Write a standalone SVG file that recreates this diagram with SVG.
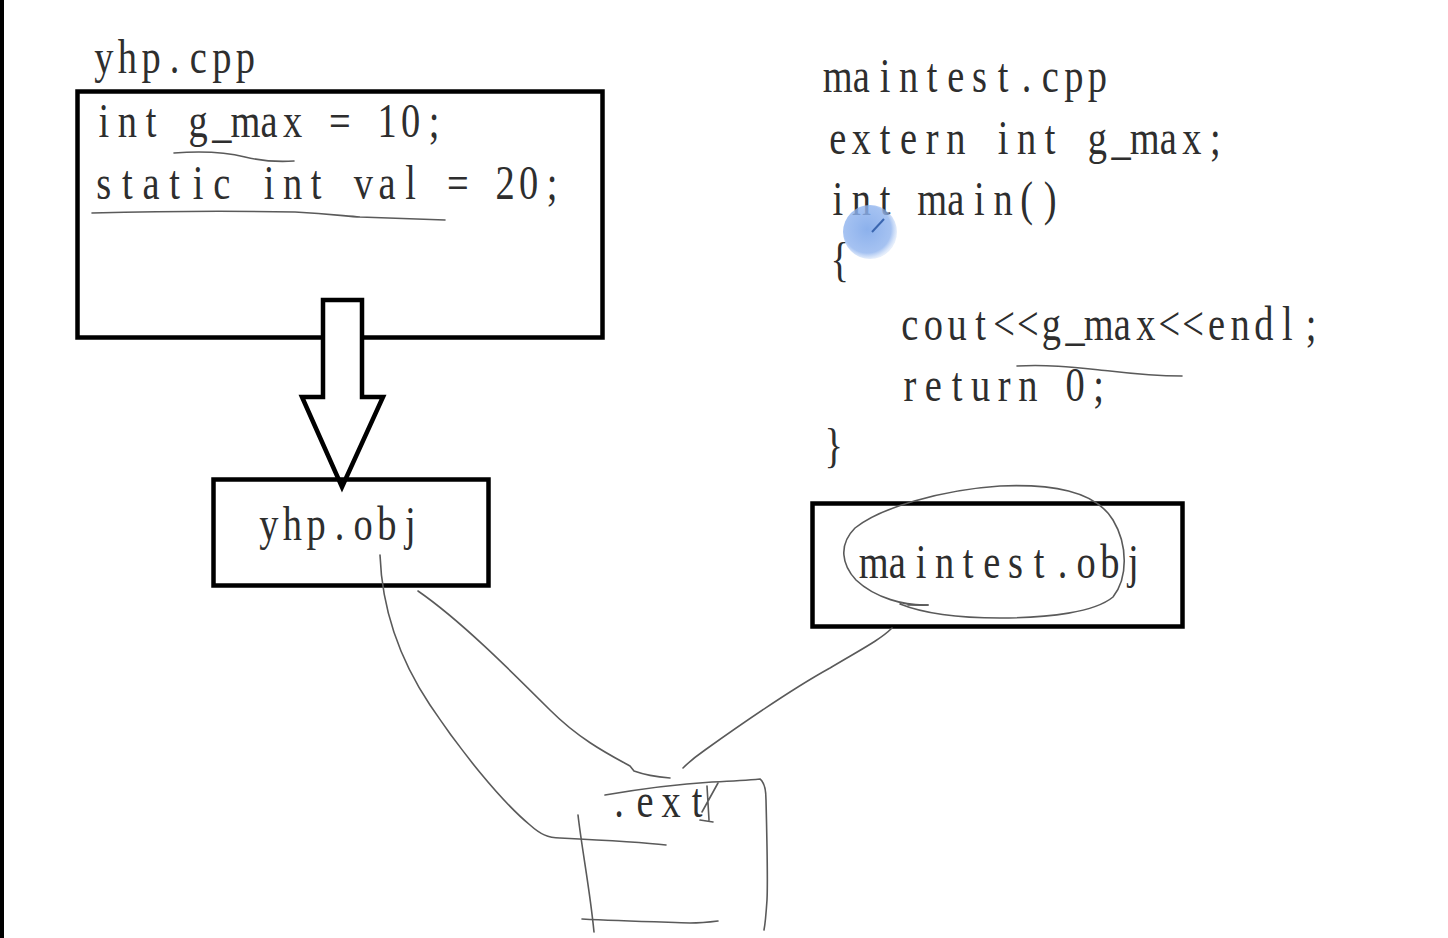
<svg xmlns="http://www.w3.org/2000/svg" width="1448" height="938" viewBox="0 0 1448 938">
<defs>
<style>
.code{font-family:"Liberation Serif","DejaVu Serif",serif;font-size:48px;fill:#2e2e2e;text-anchor:middle}
.box{fill:none;stroke:#000;stroke-width:4.5}
.pen{fill:none;stroke:#5a5a5a;stroke-width:1.6;stroke-linecap:round;stroke-linejoin:round}
</style>
<radialGradient id="dot" cx="0.45" cy="0.45" r="0.55">
<stop offset="0" stop-color="#7fa8ea" stop-opacity="0.9"/>
<stop offset="0.8" stop-color="#8fb3ee" stop-opacity="0.8"/>
<stop offset="1" stop-color="#a9c5f2" stop-opacity="0.3"/>
</radialGradient>
</defs>
<rect x="0" y="0" width="1448" height="938" fill="#fff"/>
<rect x="0" y="0" width="4" height="938" fill="#000"/>

<g id="yhp-cpp">
<text class="code" transform="translate(92,73) scale(0.8,1)" x="14.75 44.25 73.75 103.25 132.75 162.25 191.75" y="0">yhp.cpp</text>
<rect class="box" x="77.5" y="91.5" width="525" height="246"/>
<text class="code" transform="translate(92,137) scale(0.8,1)" x="14.75 44.25 73.75 103.25 132.75 162.25 191.75 221.25 250.75 280.25 309.75 339.25 368.75 398.25 427.75" y="0">int g_max = 10;</text>
<text class="code" transform="translate(92,199) scale(0.8,1)" x="14.75 44.25 73.75 103.25 132.75 162.25 191.75 221.25 250.75 280.25 309.75 339.25 368.75 398.25 427.75 457.25 486.75 516.25 545.75 575.25" y="0">static int val = 20;</text>
<path class="pen" d="M174,153 C200,151 225,152 245,157 C262,161 280,162 294,161"/>
<path class="pen" d="M92,213 C170,211 240,211 295,212 C330,214 345,216 360,217 C390,218 420,219 445,220"/>
</g>

<g id="block-arrow">
<path d="M323,300 L362,300 L362,397 L383,397 L342,487 L302,397 L323,397 Z" fill="#fff" stroke="#000" stroke-width="4.5" stroke-linejoin="miter"/>
</g>

<g id="yhp-obj">
<rect class="box" x="213.5" y="479.5" width="275" height="106"/>
<text class="code" transform="translate(257,540) scale(0.8,1)" x="14.75 44.25 73.75 103.25 132.75 162.25 191.75" y="0">yhp.obj</text>
</g>

<g id="maintest-cpp">
<text class="code" transform="translate(826,92) scale(0.8,1)" x="14.75 44.25 73.75 103.25 132.75 162.25 191.75 221.25 250.75 280.25 309.75 339.25" y="0">maintest.cpp</text>
<text class="code" transform="translate(826,154) scale(0.8,1)" x="14.75 44.25 73.75 103.25 132.75 162.25 191.75 221.25 250.75 280.25 309.75 339.25 368.75 398.25 427.75 457.25 486.75" y="0">extern int g_max;</text>
<text class="code" transform="translate(826,215) scale(0.8,1)" x="14.75 44.25 73.75 103.25 132.75 162.25 191.75 221.25 250.75 280.25" y="0">int main()</text>
<text class="code" transform="translate(828,276) scale(0.8,1)" x="14.75" y="0">{</text>
<text class="code" transform="translate(898,340) scale(0.8,1)" x="14.75 44.25 73.75 103.25 132.75 162.25 191.75 221.25 250.75 280.25 309.75 339.25 368.75 398.25 427.75 457.25 486.75 516.25" y="0">cout&lt;&lt;g_max&lt;&lt;endl;</text>
<text class="code" transform="translate(898,401) scale(0.8,1)" x="14.75 44.25 73.75 103.25 132.75 162.25 191.75 221.25 250.75" y="0">return 0;</text>
<text class="code" transform="translate(822,462) scale(0.8,1)" x="14.75" y="0">}</text>
<path class="pen" d="M1017,366 C1050,364 1080,368 1110,371 C1135,374 1160,376 1182,376"/>
<circle cx="870" cy="232" r="27" fill="url(#dot)"/>
<path d="M872,232 L884,219" stroke="#3a66b0" stroke-width="2" fill="none"/>
</g>

<g id="maintest-obj">
<rect class="box" x="812.5" y="503.5" width="370" height="123"/>
<text class="code" transform="translate(862,578) scale(0.8,1)" x="14.75 44.25 73.75 103.25 132.75 162.25 191.75 221.25 250.75 280.25 309.75 339.25" y="0">maintest.obj</text>
<path class="pen" d="M928,605 C905,606 875,598 856,580 C842,565 838,545 855,528 C880,508 940,490 1000,486 C1050,484 1095,490 1113,520 C1128,545 1128,578 1113,597 C1095,612 1050,618 1000,618 C960,618 925,614 900,604"/>
<path class="pen" d="M908,605 L928,605"/>
</g>

<g id="exe">
<text class="code" transform="translate(606,817) scale(0.8,1)" x="16.25 48.75 81.25 113.75" y="0">.ext</text>
<path class="pen" d="M707,786 L709,820 M718,783 L702,812 M700,820 L713,822"/>
<path class="pen" d="M605,795 C640,789 680,784 712,782 C735,781 750,780 760,779 C764,782 766,788 766,800 C767,840 768,880 767,900 C766,915 765,925 764,930"/>
<path class="pen" d="M578,815 C582,850 590,890 594,932"/>
<path class="pen" d="M582,919 C620,921 660,922 690,923 C700,923 710,922 718,921"/>
</g>

<g id="connectors">
<path class="pen" d="M380,555 C382,610 400,660 430,705 C460,750 500,800 530,825 C540,834 548,838 560,838 C600,840 640,842 666,845"/>
<path class="pen" d="M418,591 C460,620 510,670 550,710 C580,740 610,755 630,766 L634,771 C645,775 658,777 670,778"/>
<path class="pen" d="M892,628 C880,640 860,650 830,668 C790,690 740,725 705,750 C695,757 688,763 683,768"/>
</g>
</svg>
